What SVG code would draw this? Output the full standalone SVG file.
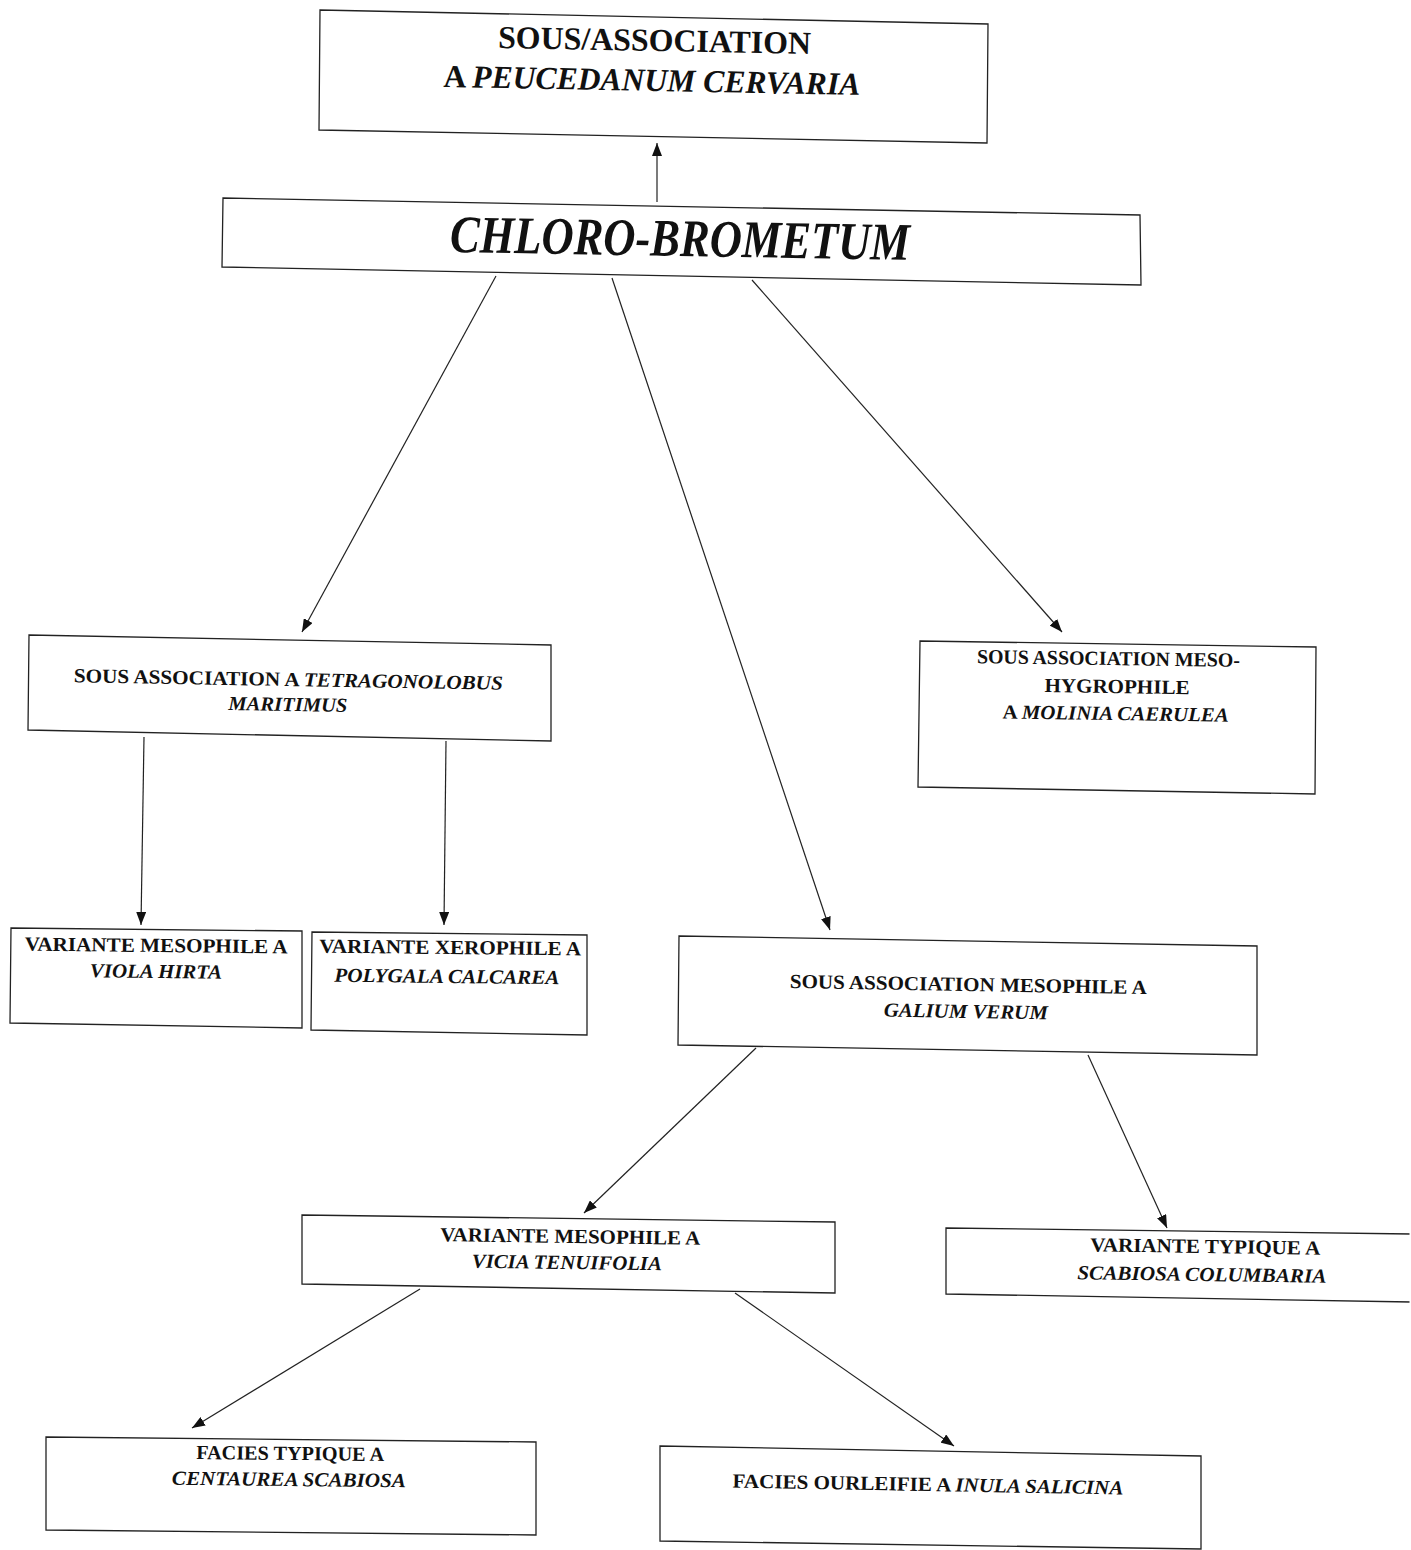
<svg xmlns="http://www.w3.org/2000/svg" width="1411" height="1550" viewBox="0 0 1411 1550">
<style>
.box{fill:#fff;stroke:#222;stroke-width:1.3}
.t{font-family:"Liberation Serif","Times New Roman",serif;font-weight:bold;fill:#111;text-anchor:middle}
.s{font-size:20px}
.i{font-style:italic}
.conn{stroke:#222;stroke-width:1.2;fill:none;marker-end:url(#ah)}
</style>
<defs>
<marker id="ah" viewBox="0 0 13 10" refX="13" refY="5" markerWidth="13" markerHeight="10" markerUnits="userSpaceOnUse" orient="auto">
<path d="M0,0 L13,5 L0,10 z" fill="#111"/>
</marker>
</defs>
<rect width="1411" height="1550" fill="#fff"/>

<g id="connectors">
<line class="conn" x1="657" y1="202" x2="657" y2="143"/>
<line class="conn" x1="496" y1="276" x2="302" y2="632"/>
<line class="conn" x1="612" y1="278" x2="830" y2="930"/>
<line class="conn" x1="752" y1="280" x2="1062" y2="632"/>
<line class="conn" x1="144" y1="737" x2="141" y2="925"/>
<line class="conn" x1="446" y1="741" x2="444" y2="925"/>
<line class="conn" x1="756" y1="1048" x2="584" y2="1213"/>
<line class="conn" x1="1088" y1="1055" x2="1167" y2="1228"/>
<line class="conn" x1="420" y1="1289" x2="192" y2="1428"/>
<line class="conn" x1="735" y1="1293" x2="954" y2="1446"/>
</g>

<g id="n-peucedanum">
<polygon class="box" points="320,10 988,24 987,143 319,130"/>
<g transform="rotate(1.1 655 70)">
<text class="t" x="654" y="51" font-size="32" textLength="313" lengthAdjust="spacingAndGlyphs">SOUS/ASSOCIATION</text>
<text class="t" x="652" y="91" font-size="32" textLength="417" lengthAdjust="spacingAndGlyphs">A <tspan class="i">PEUCEDANUM CERVARIA</tspan></text>
</g>
</g>

<g id="n-chloro">
<polygon class="box" points="223,198 1140,215 1141,285 222,267"/>
<text class="t i" x="680" y="256" font-size="53" textLength="460" lengthAdjust="spacingAndGlyphs" transform="rotate(1 680 240)">CHLORO-BROMETUM</text>
</g>

<g id="n-tetragonolobus">
<polygon class="box" points="29,635 551,645 551,741 28,730"/>
<g transform="rotate(1 288 698)">
<text class="t s" x="288" y="686" textLength="429" lengthAdjust="spacingAndGlyphs">SOUS ASSOCIATION A <tspan class="i">TETRAGONOLOBUS</tspan></text>
<text class="t s i" x="288" y="711" textLength="119" lengthAdjust="spacingAndGlyphs">MARITIMUS</text>
</g>
</g>

<g id="n-molinia">
<polygon class="box" points="920,641 1316,647 1315,794 918,787"/>
<g transform="rotate(0.8 1110 692)">
<text class="t s" x="1108" y="665" textLength="263" lengthAdjust="spacingAndGlyphs">SOUS ASSOCIATION MESO-</text>
<text class="t s" x="1117" y="693" textLength="145" lengthAdjust="spacingAndGlyphs">HYGROPHILE</text>
<text class="t s" x="1116" y="720" textLength="226" lengthAdjust="spacingAndGlyphs">A <tspan class="i">MOLINIA CAERULEA</tspan></text>
</g>
</g>

<g id="n-viola">
<polygon class="box" points="11,928 302,931 302,1028 10,1023"/>
<g transform="rotate(0.6 156 965)">
<text class="t s" x="156" y="952" textLength="263" lengthAdjust="spacingAndGlyphs">VARIANTE MESOPHILE A</text>
<text class="t s i" x="156" y="978" textLength="132" lengthAdjust="spacingAndGlyphs">VIOLA HIRTA</text>
</g>
</g>

<g id="n-polygala">
<polygon class="box" points="312,932 587,935 587,1035 311,1030"/>
<g transform="rotate(0.6 450 968)">
<text class="t s" x="450" y="954" textLength="262" lengthAdjust="spacingAndGlyphs">VARIANTE XEROPHILE A</text>
<text class="t s i" x="447" y="983" textLength="225" lengthAdjust="spacingAndGlyphs">POLYGALA CALCAREA</text>
</g>
</g>

<g id="n-galium">
<polygon class="box" points="679,936 1257,946 1257,1055 678,1045"/>
<g transform="rotate(1 968 1003)">
<text class="t s" x="968" y="991" textLength="357" lengthAdjust="spacingAndGlyphs">SOUS ASSOCIATION MESOPHILE A</text>
<text class="t s i" x="966" y="1018" textLength="164" lengthAdjust="spacingAndGlyphs">GALIUM VERUM</text>
</g>
</g>

<g id="n-vicia">
<polygon class="box" points="302,1215 835,1222 835,1293 302,1284"/>
<g transform="rotate(0.8 569 1255)">
<text class="t s" x="570" y="1243" textLength="260" lengthAdjust="spacingAndGlyphs">VARIANTE MESOPHILE A</text>
<text class="t s i" x="567" y="1269" textLength="190" lengthAdjust="spacingAndGlyphs">VICIA TENUIFOLIA</text>
</g>
</g>

<g id="n-scabiosa">
<polygon class="box" points="946,1228 1411,1234 1411,1302 946,1294"/>
<polyline fill="none" stroke="#fff" stroke-width="3" points="1411,1232 1411,1304"/>
<g transform="rotate(0.8 1204 1266)">
<text class="t s" x="1205" y="1253" textLength="230" lengthAdjust="spacingAndGlyphs">VARIANTE TYPIQUE A</text>
<text class="t s i" x="1202" y="1281" textLength="249" lengthAdjust="spacingAndGlyphs">SCABIOSA COLUMBARIA</text>
</g>
</g>

<g id="n-centaurea">
<polygon class="box" points="46,1437 536,1442 536,1535 46,1530"/>
<g transform="rotate(0.6 290 1472)">
<text class="t s" x="290" y="1460" textLength="188" lengthAdjust="spacingAndGlyphs">FACIES TYPIQUE A</text>
<text class="t s i" x="289" y="1486" textLength="234" lengthAdjust="spacingAndGlyphs">CENTAUREA SCABIOSA</text>
</g>
</g>

<g id="n-inula">
<polygon class="box" points="660,1446 1201,1456 1201,1549 660,1541"/>
<text class="t s" x="928" y="1491" textLength="391" lengthAdjust="spacingAndGlyphs" transform="rotate(1 928 1485)">FACIES OURLEIFIE A <tspan class="i">INULA SALICINA</tspan></text>
</g>
</svg>
